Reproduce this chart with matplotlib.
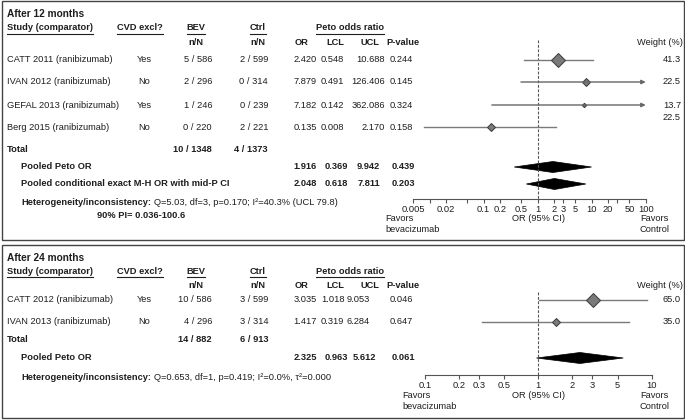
import matplotlib.pyplot as plt
from matplotlib.patches import Polygon, Rectangle
from matplotlib.lines import Line2D
from matplotlib.ticker import NullLocator

plt.rcParams['font.family'] = ['Liberation Sans', 'DejaVu Sans']

# ---- after 12 months
studies12 = ['CATT 2011 (ranibizumab)', 'IVAN 2012 (ranibizumab)',
             'GEFAL 2013 (ranibizumab)', 'Berg 2015 (ranibizumab)']
cvd12 = ['Yes', 'No', 'Yes', 'No']
bev12 = ['5 / 586', '2 / 296', '1 / 246', '0 / 220']
ctrl12 = ['2 / 599', '0 / 314', '0 / 239', '2 / 221']
or12 = [2.420, 7.879, 7.182, 0.135]
lcl12 = [0.548, 0.491, 0.142, 0.008]
ucl12 = [10.688, 126.406, 362.086, 2.170]
p12 = [0.244, 0.145, 0.324, 0.158]
weight12 = [41.3, 22.5, 13.7, 22.5]
total12 = ['10 / 1348', '4 / 1373']
pool_names12 = ['Pooled Peto OR', 'Pooled conditional exact M-H OR with mid-P CI']
pool_or12 = [1.916, 2.048]
pool_lcl12 = [0.369, 0.618]
pool_ucl12 = [9.942, 7.811]
pool_p12 = [0.439, 0.203]
het12 = 'Q=5.03, df=3, p=0.170; I²=40.3% (UCL 79.8)'
pi12 = '90% PI= 0.036-100.6'
ticks12 = [0.005, 0.01, 0.02, 0.05, 0.1, 0.2, 0.5, 1, 2, 3, 5, 10, 20, 30, 50, 100]
tlabels12 = ['0.005', '', '0.02', '', '0.1', '0.2', '0.5', '1', '2', '3', '5',
             '10', '20', '', '50', '100']

# ---- after 24 months
studies24 = ['CATT 2012 (ranibizumab)', 'IVAN 2013 (ranibizumab)']
cvd24 = ['Yes', 'No']
bev24 = ['10 / 586', '4 / 296']
ctrl24 = ['3 / 599', '3 / 314']
or24 = [3.035, 1.417]
lcl24 = [1.018, 0.319]
ucl24 = [9.053, 6.284]
p24 = [0.046, 0.647]
weight24 = [65.0, 35.0]
total24 = ['14 / 882', '6 / 913']
pool_names24 = ['Pooled Peto OR']
pool_or24 = [2.325]
pool_lcl24 = [0.963]
pool_ucl24 = [5.612]
pool_p24 = [0.061]
het24 = 'Q=0.653, df=1, p=0.419; I²=0.0%, τ²=0.000'
ticks24 = [0.1, 0.2, 0.3, 0.5, 1, 2, 3, 5, 10]
tlabels24 = ['0.1', '0.2', '0.3', '0.5', '1', '2', '3', '5', '10']

W, H = 685, 420
TXT = '#1e1e1e'
AXC = '#555555'
FS = 6.7

fig = plt.figure(figsize=(W / 100, H / 100), dpi=100)
renderer = fig.canvas.get_renderer()


def put(x, y, s, ha='left', bold=False, fs=FS, underline=False):
    # x, y in pixels from the top-left corner
    t = fig.text(x / W, 1 - y / H, s, ha=ha, va='center', fontsize=fs,
                 fontweight='bold' if bold else 'normal', color=TXT)
    bb = t.get_window_extent(renderer)
    if underline:
        fig.add_artist(Line2D([bb.x0 / W, bb.x1 / W], [1 - (y + 5.5) / H] * 2,
                              color=TXT, lw=0.8))
    return bb


def panel(lay, title, names, cvd, bev, ctrl, ors, lcl, ucl, pv, wt, total,
          pnames, por, plcl, pucl, pp, het, pi, ticks, tlabels):
    y0, y1 = lay['box']
    fig.add_artist(Rectangle((1.5 / W, 1 - y1 / H), 682 / W, (y1 - y0) / H,
                             transform=fig.transFigure, fill=False, ec='#444444', lw=1))
    put(7, y0 + 13, title, bold=True, fs=7.3)

    hy = lay['head']
    put(7, hy, 'Study (comparator)', bold=True, underline=True)
    put(140, hy, 'CVD excl?', ha='center', bold=True, underline=True)
    put(196, hy, 'BEV', ha='center', bold=True, underline=True)
    put(258, hy, 'Ctrl', ha='center', bold=True, underline=True)
    put(350, hy, 'Peto odds ratio', ha='center', bold=True, underline=True)
    ny = hy + 14.5
    put(196, ny, 'n/N', ha='center', bold=True)
    put(258, ny, 'n/N', ha='center', bold=True)
    for x, s in [(302, 'OR'), (335, 'LCL'), (370, 'UCL'), (403, 'P-value')]:
        put(x, ny, s, ha='center', bold=True)
    put(683, ny, 'Weight (%)', ha='right')

    for i, y in enumerate(lay['rows']):
        put(7, y, names[i])
        put(144, y, cvd[i], ha='center')
        put(212, y, bev[i], ha='right')
        put(268, y, ctrl[i], ha='right')
        put(305, y, f'{ors[i]:.3f}', ha='center')
        put(332.5, y, f'{lcl[i]:.3f}', ha='center')
        put(lay['ucl_x'], y, f'{ucl[i]:.3f}', ha=lay['ucl_ha'])
        put(401, y, f'{pv[i]:.3f}', ha='center')
        put(681, lay['wt'][i], f'{wt[i]:.1f}', ha='right')

    ty = lay['total']
    put(7, ty, 'Total', bold=True)
    put(212, ty, total[0], ha='right', bold=True)
    put(268, ty, total[1], ha='right', bold=True)

    for i, y in enumerate(lay['pool']):
        put(21, y, pnames[i], bold=True)
        put(305, y, f'{por[i]:.3f}', ha='center', bold=True)
        put(336, y, f'{plcl[i]:.3f}', ha='center', bold=True)
        put(lay['ucl_bx'], y, f'{pucl[i]:.3f}', ha='center', bold=True)
        put(403, y, f'{pp[i]:.3f}', ha='center', bold=True)

    bb = put(21, lay['het'], 'Heterogeneity/inconsistency:', bold=True)
    put(bb.x1 + 3, lay['het'], het)
    if pi:
        put(lay['pi_x'], lay['het'] + 14, pi, bold=True)

    # forest plot
    xa, xb = lay['ax_x']
    ay, atop = lay['axis_y'], lay['ax_top']
    ax = fig.add_axes([xa / W, 1 - ay / H, (xb - xa) / W, (ay - atop) / H])
    ax.set_xscale('log')
    lo, hi = lay['xlim']
    ax.set_xlim(lo, hi)
    ax.set_ylim(ay, atop)
    ax.patch.set_visible(False)
    for s in ['top', 'left', 'right']:
        ax.spines[s].set_visible(False)
    ax.spines['bottom'].set_color(AXC)
    ax.spines['bottom'].set_linewidth(0.8)
    ax.set_yticks([])
    ax.set_xticks(ticks)
    ax.set_xticklabels(tlabels)
    ax.xaxis.set_minor_locator(NullLocator())
    ax.tick_params(axis='x', direction='out', length=3, width=0.8, color=AXC,
                   labelsize=FS, pad=1, labelcolor=TXT)
    ax.plot([1, 1], [lay['dash_top'], ay], ls=(0, (2.5, 1.5)), color='#555555',
            lw=0.8, clip_on=False)

    wmax = max(wt)
    for i, y in enumerate(lay['rows']):
        if ucl[i] > hi:
            ax.annotate('', xy=(hi, y), xytext=(lcl[i], y),
                        arrowprops=dict(arrowstyle='-|>', color='#666666', lw=1,
                                        mutation_scale=6, shrinkA=0, shrinkB=0),
                        annotation_clip=False)
        else:
            ax.plot([lcl[i], ucl[i]], [y, y], color='#7a7a7a', lw=1, clip_on=False)
        ax.plot(ors[i], y, marker='D', ms=6.8 * wt[i] / wmax, mfc='#7a7a7a',
                mec='#3a3a3a', mew=0.7, clip_on=False)

    for i, y in enumerate(lay['pool']):
        ax.add_patch(Polygon([(plcl[i], y), (por[i], y - 5.5), (pucl[i], y),
                              (por[i], y + 5.5)], closed=True, fc='black',
                             ec='black', lw=0.5, clip_on=False))

    fy = lay['fav_y']
    put(lay['fav_x'], fy, 'Favors')
    put(lay['fav_x'], fy + 11.5, 'bevacizumab')
    put(538, fy, 'OR (95% CI)', ha='center')
    put(669, fy, 'Favors', ha='right')
    put(669, fy + 11.5, 'Control', ha='right')


lay12 = dict(box=(1, 240), head=28, rows=[60, 82, 105, 127], wt=[60, 82, 105, 118],
             total=150, pool=[167, 184], het=202, pi_x=97, ucl_x=385, ucl_ha='right',
             ucl_bx=368.5, ax_x=(413.3, 645.7), axis_y=199, ax_top=38, dash_top=40,
             xlim=(0.005, 100), fav_x=385, fav_y=218)
lay24 = dict(box=(245, 418), head=271, rows=[300, 322], wt=[300, 322],
             total=340, pool=[358], het=377, pi_x=0, ucl_x=358.5, ucl_ha='center',
             ucl_bx=364.5, ax_x=(425, 651.7), axis_y=375, ax_top=285, dash_top=292,
             xlim=(0.1, 10), fav_x=402, fav_y=395)

panel(lay12, 'After 12 months', studies12, cvd12, bev12, ctrl12, or12, lcl12, ucl12,
      p12, weight12, total12, pool_names12, pool_or12, pool_lcl12, pool_ucl12, pool_p12,
      het12, pi12, ticks12, tlabels12)
panel(lay24, 'After 24 months', studies24, cvd24, bev24, ctrl24, or24, lcl24, ucl24,
      p24, weight24, total24, pool_names24, pool_or24, pool_lcl24, pool_ucl24, pool_p24,
      het24, None, ticks24, tlabels24)

fig.savefig('out.png', dpi=100)
